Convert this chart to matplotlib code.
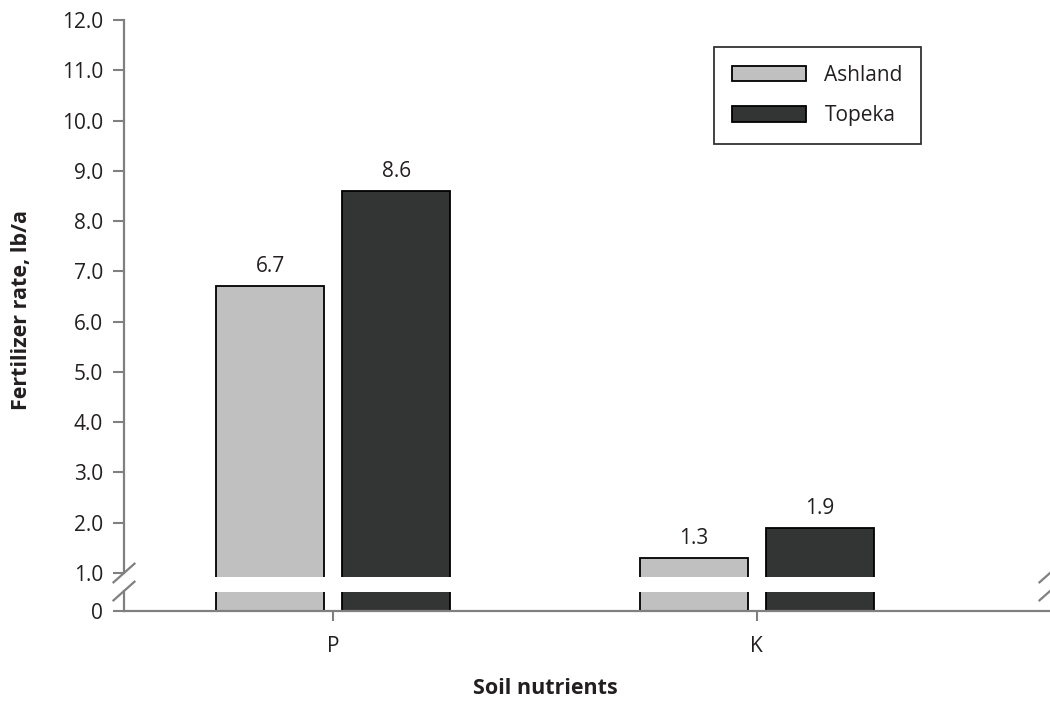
import numpy as np
import matplotlib
matplotlib.use("Agg")
import matplotlib.pyplot as plt
from matplotlib.lines import Line2D
from matplotlib.patches import Rectangle

# ---- data ----
categories = ["P", "K"]
series_names = ["Ashland", "Topeka"]
ashland = [6.7, 1.3]
topeka = [8.6, 1.9]
ytick_vals = [0, 1, 2, 3, 4, 5, 6, 7, 8, 9, 10, 11, 12]
ytick_labels = ["0", "1.0", "2.0", "3.0", "4.0", "5.0", "6.0", "7.0", "8.0",
                "9.0", "10.0", "11.0", "12.0"]

# ---- style ----
plt.rcParams['font.family'] = ['Open Sans', 'DejaVu Sans']
C_ASH = "#c0c0c0"
C_TOP = "#333434"
C_AX = "#808080"
C_TXT = "#231f20"
FS = 15

fig = plt.figure(figsize=(10.5, 7.01), dpi=100)
ax = fig.add_axes([124/1050, 1-611/701, 926/1050, 591/701])

# broken y scale: 0..1 compressed
k = 38/50.2
def fwd(v):
    v = np.asarray(v, dtype=float)
    return np.where(v < 1, v*k, v-(1-k))
def inv(u):
    u = np.asarray(u, dtype=float)
    return np.where(u < k, u/k, u+(1-k))
ax.set_yscale('function', functions=(fwd, inv))
ax.set_ylim(0, 12)

x = np.arange(len(categories))
w = 0.2556
off = 0.149
b1 = ax.bar(x-off, ashland, w, color=C_ASH, edgecolor="black", linewidth=1.3,
            label=series_names[0], zorder=1)
b2 = ax.bar(x+off, topeka, w, color=C_TOP, edgecolor="black", linewidth=1.3,
            label=series_names[1], zorder=1)
for bars, vals in ((b1, ashland), (b2, topeka)):
    for r, v in zip(bars, vals):
        ax.annotate(f"{v:.1f}", (r.get_x()+r.get_width()/2, v),
                    xytext=(0, 6.5), textcoords="offset points",
                    ha="center", va="bottom", fontsize=FS, color=C_TXT)

ax.set_xlim(-0.4943, 1.6927)
ax.set_xticks(x)
ax.set_xticklabels(categories)
ax.set_yticks(ytick_vals)
ax.set_yticklabels(ytick_labels)
ax.yaxis.set_minor_locator(matplotlib.ticker.NullLocator())

for s in ("top", "right", "left"):
    ax.spines[s].set_visible(False)
ax.spines["bottom"].set_color(C_AX)
ax.spines["bottom"].set_linewidth(1.6)
ax.spines["bottom"].set_zorder(4)

ax.tick_params(axis="y", length=8, width=1.5, color=C_AX, pad=7,
               labelsize=FS, labelcolor=C_TXT)
ax.tick_params(axis="x", length=7, width=1.5, color=C_AX, pad=11,
               labelsize=FS, labelcolor=C_TXT)

# white break band across the bars
ax.add_patch(Rectangle((0, 0.0326), 1, 0.0570-0.0326, transform=ax.transAxes,
                       facecolor="white", edgecolor="none", zorder=3))

# manual y axis line with gap
ax.add_line(Line2D([0, 0], [0, 0.0338], transform=ax.transAxes, color=C_AX,
                   lw=1.6, clip_on=False, zorder=5))
ax.add_line(Line2D([0, 0], [0.0643, 1], transform=ax.transAxes, color=C_AX,
                   lw=1.6, clip_on=False, zorder=5))
# slashes
hw = 10.5/926
for xc in (0.0, 1.0):
    for yc in (0.0643, 0.0338):
        ax.add_line(Line2D([xc-hw, xc+hw], [yc-0.0158, yc+0.0158],
                           transform=ax.transAxes, color=C_AX, lw=1.6,
                           clip_on=False, zorder=6))

ax.set_ylabel("Fertilizer rate, lb/a", fontsize=15.5, fontweight="bold",
              color=C_TXT)
ax.yaxis.set_label_coords(-0.099, 0.509)
ax.set_xlabel("Soil nutrients", fontsize=15.5, fontweight="bold", color=C_TXT)
ax.xaxis.set_label_coords(0.4546, -0.114)

leg = ax.legend(loc="upper left", bbox_to_anchor=(714/1050, 1-47/701),
                bbox_transform=fig.transFigure, fontsize=15, frameon=True,
                fancybox=False, edgecolor="black", handlelength=3.55,
                handleheight=0.78, handletextpad=0.9, labelspacing=0.95,
                borderpad=0.85, borderaxespad=0)
leg.get_frame().set_linewidth(1.3)
for t in leg.get_texts():
    t.set_color(C_TXT)

fig.savefig("out.png", dpi=100)
